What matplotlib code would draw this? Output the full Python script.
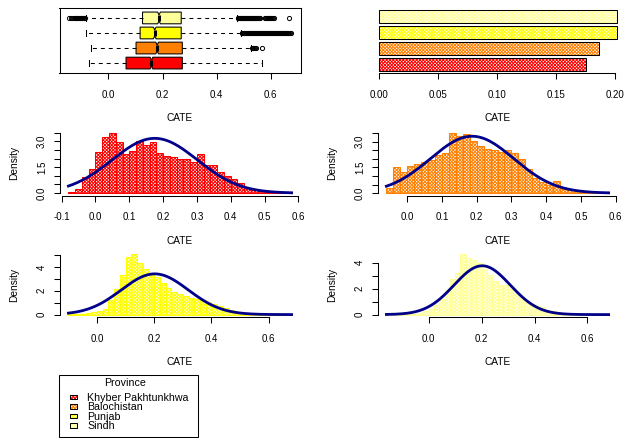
import numpy as np
import matplotlib
matplotlib.use('Agg')
import matplotlib.pyplot as plt
from matplotlib.patches import Patch, Rectangle
from matplotlib.legend_handler import HandlerBase

plt.rcParams['font.family'] = ['Liberation Sans', 'DejaVu Sans']
plt.rcParams['axes.unicode_minus'] = False
plt.rcParams['hatch.linewidth'] = 0.7

W, H = 626, 438

provinces = ['Khyber Pakhtunkhwa', 'Balochistan', 'Punjab', 'Sindh']
colors = ['#FF0000', '#FF7F00', '#FFFF00', '#FFFF99']

# boxplot summaries, bottom row first (KP, Balochistan, Punjab, Sindh)
q1 = [0.065, 0.102, 0.117, 0.126]
med = [0.159, 0.180, 0.171, 0.187]
q3 = [0.273, 0.273, 0.269, 0.269]
whis_lo = [-0.071, -0.063, -0.083, -0.082]
whis_hi = [0.566, 0.526, 0.490, 0.475]
fliers_kp = []
fliers_bal = [0.532, 0.535, 0.538, 0.541, 0.545, 0.567]
fliers_pun = [0.4925, 0.495, 0.4975, 0.500, 0.5025, 0.505, 0.5075, 0.510, 0.5125, 0.515,
              0.5175, 0.520, 0.5225, 0.525, 0.5275, 0.530, 0.5325, 0.535, 0.5375, 0.540,
              0.5425, 0.545, 0.5475, 0.550, 0.5525, 0.555, 0.5575, 0.560, 0.5625, 0.565,
              0.5675, 0.570, 0.5725, 0.575, 0.5775, 0.580, 0.5825, 0.585, 0.5875, 0.590,
              0.5925, 0.595, 0.5975, 0.600, 0.6025, 0.605, 0.6075, 0.610, 0.6125, 0.615,
              0.6175, 0.620, 0.6225, 0.625, 0.6275, 0.630, 0.6325, 0.635, 0.6375, 0.640,
              0.6425, 0.645, 0.6475, 0.650, 0.6525, 0.655, 0.6575, 0.660, 0.6625, 0.665,
              0.668, 0.672, 0.675]
fliers_sin = [-0.147, -0.140, -0.133, -0.127, -0.1245, -0.122, -0.1195, -0.117, -0.1145,
              -0.112, -0.1095, -0.107, -0.1045, -0.102, -0.0995, -0.097, -0.0945, -0.092,
              -0.0895, -0.087,
              0.4775, 0.480, 0.4825, 0.485, 0.4875, 0.490, 0.4925, 0.495, 0.4975, 0.500,
              0.5025, 0.505, 0.5075, 0.510, 0.5125, 0.515, 0.5175, 0.520, 0.5225, 0.525,
              0.5275, 0.530, 0.5325, 0.535, 0.5375, 0.540, 0.5425, 0.545, 0.5475, 0.550,
              0.5525, 0.555, 0.558, 0.562,
              0.578, 0.5805, 0.583, 0.5855, 0.588, 0.5905, 0.593, 0.5955, 0.598, 0.6005,
              0.603, 0.607, 0.612, 0.667]

# mean CATE by province and sd used for the normal curves
mean_cate = [0.1752, 0.1868, 0.2018, 0.2021]
sd_cate = [0.126, 0.120, 0.117, 0.106]

# histogram densities (bin width 0.02)
bin_width = 0.02
hist_start = [-0.08, -0.06, -0.10, -0.16]
dens_kp = [0.06, 0.21, 0.93, 1.42, 2.35, 3.23, 3.48, 2.94, 2.28, 2.41, 3.03, 2.78,
           2.98, 2.33, 2.12, 2.08, 1.95, 1.95, 1.77, 2.28, 1.65, 1.65, 1.23, 1.01,
           0.82, 0.60, 0.29, 0.19, 0.14, 0.08, 0.06, 0.04, 0.02]
dens_bal = [0.29, 1.53, 1.24, 1.57, 1.70, 1.80, 1.96, 2.22, 2.36, 3.52, 3.36, 3.48,
            3.05, 2.73, 2.55, 2.53, 2.42, 2.50, 2.32, 1.98, 1.38, 0.88, 0.65, 0.45,
            0.69, 0.26, 0.20, 0.10, 0.06, 0.04, 0.03, 0.02]
dens_pun = [0.02, 0.03, 0.06, 0.10, 0.20, 0.30, 0.50, 1.20, 2.15, 3.30, 4.80, 5.04,
            4.36, 3.80, 3.37, 3.14, 2.66, 2.24, 1.90, 1.73, 1.59, 1.39, 1.30, 1.19,
            1.02, 0.88, 0.74, 0.54, 0.37, 0.23, 0.14, 0.08, 0.05, 0.03, 0.02, 0.01,
            0.01, 0.005, 0.005]
dens_sin = [0.01, 0.01, 0.02, 0.03, 0.05, 0.08, 0.14, 0.25, 0.45, 0.75, 1.20, 1.90,
            2.72, 3.23, 4.64, 4.33, 4.20, 3.95, 3.54, 3.03, 2.59, 2.26, 2.26, 1.95,
            1.56, 1.30, 1.03, 0.85, 0.67, 0.59, 0.36, 0.26, 0.18, 0.12, 0.08, 0.05,
            0.03, 0.02, 0.01, 0.01, 0.005, 0.005]

fliers = [fliers_kp, fliers_bal, fliers_pun, fliers_sin]
densities = [dens_kp, dens_bal, dens_pun, dens_sin]
HATCH = 'xxxxxxxxxx'

fig = plt.figure(figsize=(W / 100, H / 100), dpi=100)


def px_axes(left, top, right, bottom):
    return fig.add_axes([left / W, 1 - bottom / H, (right - left) / W, (bottom - top) / H])


def style(ax, label_y=None):
    ax.tick_params(direction='out', length=4, width=0.75, labelsize=7, pad=5)
    ax.tick_params(axis='x', pad=8)
    for s in ax.spines.values():
        s.set_linewidth(0.75)
    ax.set_xlabel('CATE', fontsize=7.3)
    ax.xaxis.set_label_coords(0.5, -40 / 65)
    if label_y:
        ax.set_ylabel(label_y, fontsize=7.3)
        ax.yaxis.set_label_coords(-40 / 240, 0.5)


# ---- boxplot ----
ax1 = px_axes(59.5, 8, 300.5, 73)
stats = []
for i in range(4):
    stats.append(dict(med=med[i], q1=q1[i], q3=q3[i], whislo=whis_lo[i], whishi=whis_hi[i],
                      fliers=fliers[i], cilo=med[i] - 0.005, cihi=med[i] + 0.005))
bp = ax1.bxp(stats, positions=[1, 2, 3, 4], orientation='horizontal', widths=0.78,
             shownotches=True, patch_artist=True, capwidths=0.4,
             boxprops=dict(edgecolor='black', linewidth=0.75),
             medianprops=dict(color='black', linewidth=2.2),
             whiskerprops=dict(linestyle=(0, (3.8, 3.8)), linewidth=0.75),
             capprops=dict(linewidth=0.75),
             flierprops=dict(marker='o', markerfacecolor='none', markeredgecolor='black',
                             markersize=3, markeredgewidth=0.7))
for patch, c in zip(bp['boxes'], colors):
    patch.set_facecolor(c)
ax1.set_xlim(-0.181, 0.71)
ax1.set_ylim(0.34, 4.66)
ax1.set_yticks([])
ax1.set_xticks([0, 0.2, 0.4, 0.6], ['0.0', '0.2', '0.4', '0.6'])
style(ax1)

# ---- barplot of means ----
ax2 = px_axes(377.5, 8, 617.5, 73)
bar_pos = [0.7, 1.9, 3.1, 4.3]
ax2.barh(bar_pos, mean_cate, height=1, color='white', edgecolor=colors, hatch=HATCH, linewidth=0)
ax2.barh(bar_pos, mean_cate, height=1, fill=False, edgecolor='black', linewidth=0.75)
ax2.set_xlim(-0.0015, 0.2022)
ax2.set_ylim(0.016, 4.984)
ax2.set_yticks([])
for s in ['top', 'right', 'left']:
    ax2.spines[s].set_visible(False)
ax2.spines['bottom'].set_bounds(0, 0.2)
ax2.set_xticks([0, 0.05, 0.10, 0.15, 0.20], ['0.00', '0.05', '0.10', '0.15', '0.20'])
style(ax2)

# ---- histograms ----
boxes = [(59.5, 130.5, 300.5, 195.5), (377.5, 130.5, 617.5, 195.5),
         (59.5, 252, 300.5, 317), (377.5, 252, 617.5, 317)]
yt_step = [0.5, 0.5, 1, 1]
yt_label_every = [3, 3, 2, 2]
yt_fmt = ['%.1f', '%.1f', '%d', '%d']
xt_sets = [[-0.1, 0, 0.1, 0.2, 0.3, 0.4, 0.5, 0.6], [0, 0.1, 0.2, 0.3, 0.4, 0.5, 0.6],
           [0, 0.2, 0.4, 0.6], [0, 0.2, 0.4, 0.6]]
for i in range(4):
    ax = px_axes(*boxes[i])
    d = np.array(densities[i])
    edges = hist_start[i] + bin_width * np.arange(len(d) + 1)
    ax.bar(edges[:-1], d, width=bin_width, align='edge', color='white',
           edgecolor=colors[i], hatch=HATCH, linewidth=0.75)
    xx = np.linspace(edges[0], edges[-1], 300)
    yy = np.exp(-0.5 * ((xx - mean_cate[i]) / sd_cate[i]) ** 2) / (sd_cate[i] * np.sqrt(2 * np.pi))
    ax.plot(xx, yy, color='#00008B', lw=2)
    span = edges[-1] - edges[0]
    ax.set_xlim(edges[0] - 0.04 * span, edges[-1] + 0.04 * span)
    ax.set_ylim(-0.04 * d.max(), 1.04 * d.max())
    yt = np.arange(0, 1.04 * d.max(), yt_step[i])
    ylab = [(yt_fmt[i] % v) if k % yt_label_every[i] == 0 else '' for k, v in enumerate(yt)]
    ax.set_yticks(yt, ylab)
    xt = xt_sets[i]
    ax.set_xticks(xt, ['%.1f' % v for v in xt])
    ax.spines['top'].set_visible(False)
    ax.spines['right'].set_visible(False)
    ax.spines['left'].set_bounds(yt[0], yt[-1])
    ax.spines['bottom'].set_bounds(xt[0], xt[-1])
    style(ax, 'Density')
    ax.tick_params(axis='y', labelrotation=90)
    for t in ax.get_yticklabels():
        t.set_va('center')


# ---- legend ----
class HatchBox(HandlerBase):
    # small hatched box with a black border, drawn inset like R's legend fill
    def create_artists(self, legend, orig_handle, xdescent, ydescent, width, height,
                       fontsize, trans):
        bw, bh = 5.0, 3.2
        x0 = -xdescent + 6.0
        y0 = -ydescent + (height - bh) / 2
        c = orig_handle.get_facecolor()
        r1 = Rectangle((x0, y0), bw, bh, facecolor='white', edgecolor=c, hatch=HATCH,
                       linewidth=0, transform=trans)
        r2 = Rectangle((x0, y0), bw, bh, fill=False, edgecolor='black', linewidth=0.75,
                       transform=trans)
        return [r1, r2]


handles = [Patch(facecolor=c) for c in colors]
leg = fig.legend(handles, provinces, title='Province', loc='upper left',
                 bbox_to_anchor=(59 / W, 1 - 375 / H), fontsize=7.7, title_fontsize=7.7,
                 frameon=False, handlelength=1.6, handleheight=0.5, labelspacing=-0.05,
                 borderpad=0.25, handletextpad=0.8, borderaxespad=0,
                 handler_map={Patch: HatchBox()})
leg._legend_box.sep = 3.7
# legend frame (R draws it wider than the text)
fig.patches.append(Rectangle((59 / W, 1 - 437 / H), 139 / W, 62 / H, fill=False,
                             edgecolor='black', linewidth=0.75, transform=fig.transFigure,
                             figure=fig))

fig.savefig('out.png', dpi=100)
